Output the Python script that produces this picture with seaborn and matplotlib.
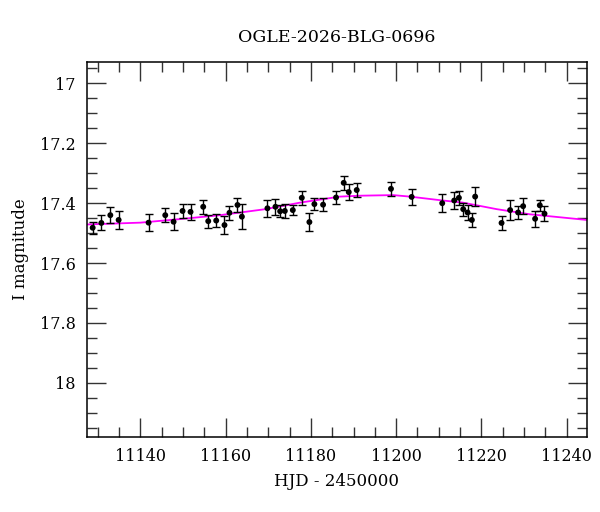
import numpy as np
import pandas as pd
import matplotlib
matplotlib.use("Agg")
import matplotlib.pyplot as plt
from matplotlib.ticker import MultipleLocator
import seaborn as sns

# photometry
hjd = [11128.83, 11130.87, 11132.97, 11134.92, 11141.94, 11145.85, 11147.80, 11149.91,
       11151.78, 11154.75, 11155.93, 11157.80, 11159.74, 11160.91, 11162.79, 11163.82,
       11169.81, 11171.69, 11172.79, 11173.89, 11175.76, 11177.87, 11179.65, 11180.82,
       11182.86, 11185.90, 11187.70, 11188.88, 11190.75, 11198.78, 11203.63, 11210.80,
       11213.61, 11214.71, 11215.72, 11216.74, 11217.75, 11218.52, 11224.71, 11226.72,
       11228.59, 11229.77, 11232.58, 11233.68, 11234.78]
mag = [17.482, 17.466, 17.440, 17.456, 17.465, 17.440, 17.462, 17.426,
       17.429, 17.412, 17.460, 17.458, 17.473, 17.432, 17.406, 17.445,
       17.417, 17.412, 17.427, 17.426, 17.423, 17.382, 17.463, 17.403,
       17.405, 17.381, 17.332, 17.363, 17.356, 17.352, 17.379, 17.400,
       17.391, 17.382, 17.420, 17.431, 17.456, 17.378, 17.466, 17.423,
       17.431, 17.410, 17.452, 17.407, 17.435]
err = [0.020, 0.025, 0.026, 0.029, 0.029, 0.024, 0.028, 0.022,
       0.027, 0.024, 0.022, 0.022, 0.031, 0.024, 0.024, 0.041,
       0.028, 0.026, 0.020, 0.022, 0.016, 0.024, 0.031, 0.021,
       0.022, 0.021, 0.023, 0.026, 0.022, 0.024, 0.026, 0.031,
       0.029, 0.024, 0.022, 0.026, 0.022, 0.031, 0.024, 0.034,
       0.022, 0.026, 0.026, 0.018, 0.024]

# model curve
model_hjd = [11127.6, 11140.0, 11149.4, 11158.7, 11169.3, 11177.5, 11186.8, 11191.5,
             11199.3, 11203.2, 11210.3, 11215.6, 11223.6, 11231.3, 11239.1, 11244.7]
model_mag = [17.471, 17.465, 17.453, 17.440, 17.420, 17.398, 17.378, 17.375,
             17.373, 17.378, 17.390, 17.398, 17.420, 17.437, 17.448, 17.456]

df = pd.DataFrame({"hjd": hjd, "mag": mag, "err": err})
model = pd.DataFrame({"hjd": model_hjd, "mag": model_mag})

sns.set_style("ticks")
plt.rcParams["font.family"] = ["DejaVu Serif"]
plt.rcParams["text.color"] = "black"
plt.rcParams["axes.labelcolor"] = "black"
plt.rcParams["xtick.color"] = "black"
plt.rcParams["ytick.color"] = "black"
plt.rcParams["axes.edgecolor"] = "black"

fig = plt.figure(figsize=(6, 5.12), dpi=100)
ax = fig.add_axes([0.145, 0.147, 0.833, 0.731])

sns.lineplot(data=model, x="hjd", y="mag", ax=ax, color="#ff00ff", lw=1.3, sort=False)
ax.errorbar(df["hjd"], df["mag"], yerr=df["err"], fmt="none", ecolor="black",
            elinewidth=1, capsize=3, capthick=1, zorder=3)
sns.scatterplot(data=df, x="hjd", y="mag", ax=ax, color="black", s=18,
                edgecolor="none", zorder=4)

ax.set_xlim(11127.5, 11244.7)
ax.set_ylim(18.18, 16.93)
ax.xaxis.set_major_locator(MultipleLocator(20))
ax.xaxis.set_minor_locator(MultipleLocator(5))
ax.yaxis.set_major_locator(MultipleLocator(0.2))
ax.yaxis.set_minor_locator(MultipleLocator(0.05))
ax.yaxis.set_major_formatter(plt.FuncFormatter(lambda v, p: f"{v:g}"))

ax.tick_params(which="both", direction="in", top=True, right=True, width=1,
               color="#333333", labelcolor="black")
ax.tick_params(which="major", length=13.5, labelsize=11.5, pad=8)
ax.tick_params(which="minor", length=7)
for s in ax.spines.values():
    s.set_linewidth(1.1)

ax.set_xlabel("HJD - 2450000", fontsize=12, labelpad=6)
ax.set_ylabel("I magnitude", fontsize=12, labelpad=8)
ax.set_title("OGLE-2026-BLG-0696", fontsize=12.5, pad=15)

fig.savefig("out.png", dpi=100)
